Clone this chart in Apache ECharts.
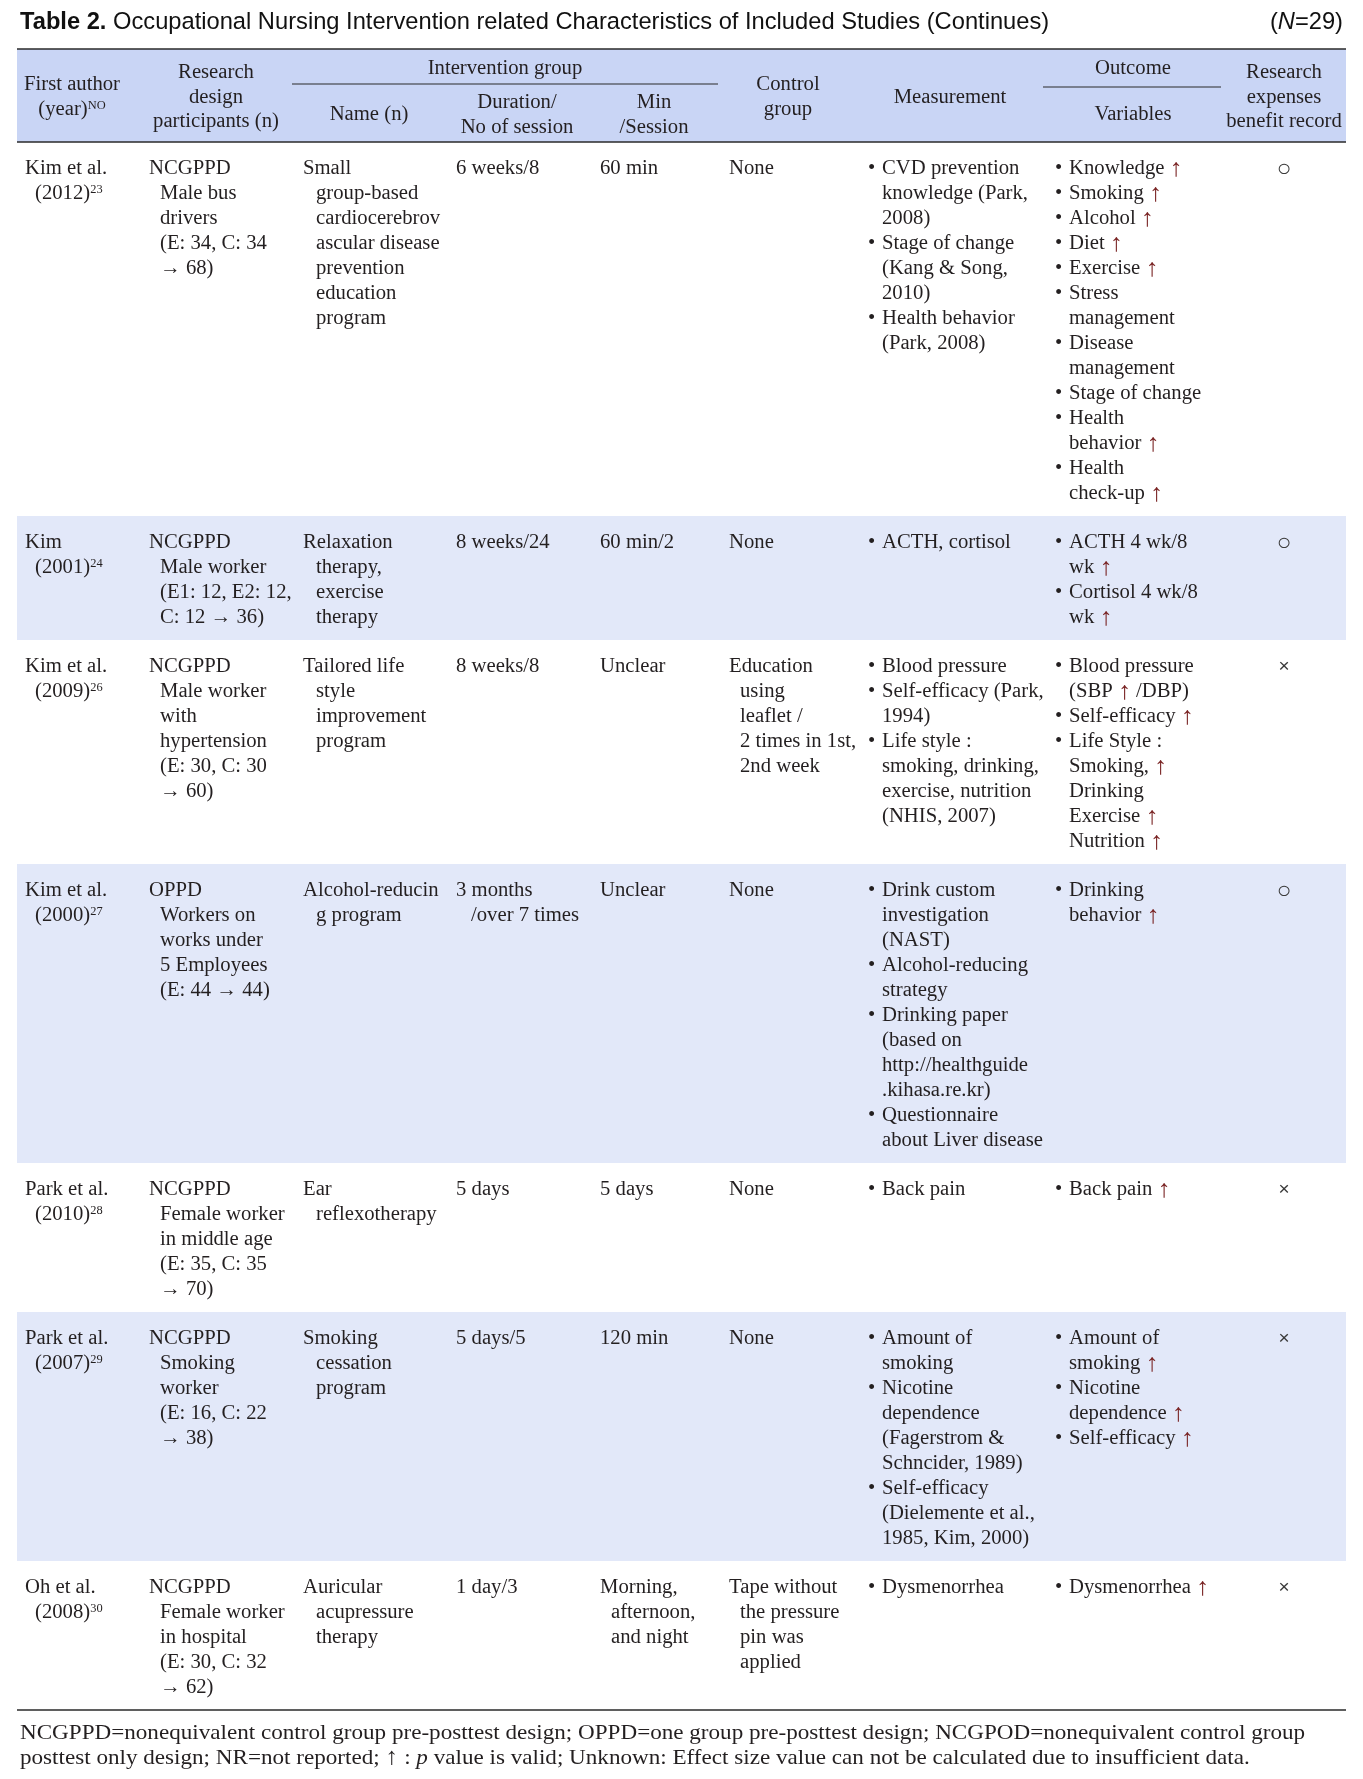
<!DOCTYPE html>
<html><head><meta charset="utf-8">
<script src="https://cdn.jsdelivr.net/npm/echarts@6/dist/echarts.min.js"></script>
<style>html,body{margin:0;padding:0;background:#fff}#c{width:1363px;height:1779px}</style>
</head><body><div id="c"></div>
<script>
// ---------------- DATA ----------------
const titleBold = "Table 2.";
const titleText = " Occupational Nursing Intervention related Characteristics of Included Studies (Continues)";
const sampleN = "29";
const headerTexts = [
  ["First author", "(year){s|NO}"],
  ["Research", "design", "participants (n)"],
  ["Intervention group"],
  ["Name (n)"],
  ["Duration/", "No of session"],
  ["Min", "/Session"],
  ["Control", "group"],
  ["Measurement"],
  ["Outcome"],
  ["Variables"],
  ["Research", "expenses", "benefit record"]
];
const authors = ["Kim et al.", "Kim", "Kim et al.", "Kim et al.", "Park et al.", "Park et al.", "Oh et al."];
const years = ["(2012)", "(2001)", "(2009)", "(2000)", "(2010)", "(2007)", "(2008)"];
const refNos = ["23", "24", "26", "27", "28", "29", "30"];
const designs = [
  ["NCGPPD", "Male bus", "drivers", "(E: 34, C: 34", "→ 68)"],
  ["NCGPPD", "Male worker", "(E1: 12, E2: 12,", "C: 12 → 36)"],
  ["NCGPPD", "Male worker", "with", "hypertension", "(E: 30, C: 30", "→ 60)"],
  ["OPPD", "Workers on", "works under", "5 Employees", "(E: 44 → 44)"],
  ["NCGPPD", "Female worker", "in middle age", "(E: 35, C: 35", "→ 70)"],
  ["NCGPPD", "Smoking", "worker", "(E: 16, C: 22", "→ 38)"],
  ["NCGPPD", "Female worker", "in hospital", "(E: 30, C: 32", "→ 62)"]
];
const programNames = [
  ["Small", "group-based", "cardiocerebrov", "ascular disease", "prevention", "education", "program"],
  ["Relaxation", "therapy,", "exercise", "therapy"],
  ["Tailored life", "style", "improvement", "program"],
  ["Alcohol-reducin", "g program"],
  ["Ear", "reflexotherapy"],
  ["Smoking", "cessation", "program"],
  ["Auricular", "acupressure", "therapy"]
];
const durations = [["6 weeks/8"], ["8 weeks/24"], ["8 weeks/8"], ["3 months", "/over 7 times"], ["5 days"], ["5 days/5"], ["1 day/3"]];
const minPerSession = [["60 min"], ["60 min/2"], ["Unclear"], ["Unclear"], ["5 days"], ["120 min"], ["Morning,", "afternoon,", "and night"]];
const controlGroups = [["None"], ["None"], ["Education", "using", "leaflet /", "2 times in 1st,", "2nd week"], ["None"], ["None"], ["None"], ["Tape without", "the pressure", "pin was", "applied"]];
const measurements = [
  ["• CVD prevention", "knowledge (Park,", "2008)", "• Stage of change", "(Kang & Song,", "2010)", "• Health behavior", "(Park, 2008)"],
  ["• ACTH, cortisol"],
  ["• Blood pressure", "• Self-efficacy (Park,", "1994)", "• Life style :", "smoking, drinking,", "exercise, nutrition", "(NHIS, 2007)"],
  ["• Drink custom", "investigation", "(NAST)", "• Alcohol-reducing", "strategy", "• Drinking paper", "(based on", "http://healthguide", ".kihasa.re.kr)", "• Questionnaire", "about Liver disease"],
  ["• Back pain"],
  ["• Amount of", "smoking", "• Nicotine", "dependence", "(Fagerstrom &", "Schncider, 1989)", "• Self-efficacy", "(Dielemente et al.,", "1985, Kim, 2000)"],
  ["• Dysmenorrhea"]
];
const outcomeVariables = [
  ["• Knowledge ↑", "• Smoking ↑", "• Alcohol ↑", "• Diet ↑", "• Exercise ↑", "• Stress", "management", "• Disease", "management", "• Stage of change", "• Health", "behavior ↑", "• Health", "check-up ↑"],
  ["• ACTH 4 wk/8", "wk ↑", "• Cortisol 4 wk/8", "wk ↑"],
  ["• Blood pressure", "(SBP ↑ /DBP)", "• Self-efficacy ↑", "• Life Style :", "Smoking, ↑", "Drinking", "Exercise ↑", "Nutrition ↑"],
  ["• Drinking", "behavior ↑"],
  ["• Back pain ↑"],
  ["• Amount of", "smoking ↑", "• Nicotine", "dependence ↑", "• Self-efficacy ↑"],
  ["• Dysmenorrhea ↑"]
];
const benefitRecords = ["○", "○", "×", "○", "×", "×", "×"];
const footnoteLines = [
  "NCGPPD=nonequivalent control group pre-posttest design; OPPD=one group pre-posttest design; NCGPOD=nonequivalent control group",
  "posttest only design; NR=not reported; {ar|↑} : {i|p} value is valid; Unknown: Effect size value can not be calculated due to insufficient data."
];

// ---------------- LAYOUT / STYLE ----------------
const W = 1363, H = 1779;
const SERIF = '"Liberation Serif","Times New Roman",serif';
const SANS = '"Liberation Sans",Arial,sans-serif';
const FS = 20, LINE = 25, ROWPAD = 24, FIRST = 27, SX = 1.035;
const INK = '#231f20', ARROW = '#7a2424', RULE = '#2a2a2a';
const HEAD_BG = '#c9d5f5', BAND_BG = '#e2e8f9';
const TL = 17, TR = 1346, TOP_RULE = 49, HEAD_BOTTOM = 142;
const colX = [25, 149, 303, 456, 600, 729, 868, 1055];
const colIndent = [10, 11, 13, 15, 11, 11];
const BULLET_TEXT = 14;
const symbolX = 1284;
const headerPos = [[72, 85], [216, 73], [505, 69], [369, 115], [517, 103], [654, 103], [788, 85], [950, 98], [1133, 69], [1133, 115], [1284, 73]];
const HEAD_LINE = 24.5;
const subRules = [[292, 718, 84], [1043, 1221, 87]];

const RICH = {
  a: {fill: ARROW, fontFamily: SERIF, fontSize: 25},
  ar: {fill: INK, fontFamily: SERIF, fontSize: 24},
  i: {fill: INK, fontFamily: SERIF, fontSize: 21.5, fontStyle: 'italic'},
  s: {fill: INK, fontFamily: SERIF, fontSize: 12, verticalAlign: 'top'}
};
function rich(s) { return s.replace(/↑/g, '{a|↑}'); }
function text(p, str, align, extra, sx) {
  return {type: 'text', x: p[0], y: p[1], scaleX: sx || SX, silent: true,
    style: Object.assign({text: str, fontFamily: SERIF, fontSize: FS, fill: INK,
      align: align || 'left', verticalAlign: 'middle', rich: RICH}, extra || {})};
}
function rowCells(i) {
  return [[authors[i], years[i] + '{s|' + refNos[i] + '}'], designs[i], programNames[i],
    durations[i], minPerSession[i], controlGroups[i], measurements[i], outcomeVariables[i]];
}
const rowTops = [];
(function () {
  let y = HEAD_BOTTOM;
  for (let i = 0; i < authors.length; i++) {
    rowTops.push(y);
    const n = Math.max.apply(null, rowCells(i).map(c => c.length));
    y += n * LINE + ROWPAD;
  }
  rowTops.push(y);
})();

function renderBody(params, api) {
  const i = api.value(0);
  const top = rowTops[i], bot = rowTops[i + 1];
  const children = [];
  if (i % 2 === 1) {
    const p0 = api.coord([TL, top]), p1 = api.coord([TR, bot]);
    children.push({type: 'rect', shape: {x: p0[0], y: p0[1], width: p1[0] - p0[0], height: p1[1] - p0[1]},
      style: {fill: BAND_BG}, silent: true});
  }
  const cells = rowCells(i);
  cells.forEach((lines, c) => {
    lines.forEach((ln, k) => {
      const y = top + FIRST + k * LINE;
      if (c >= 6) {
        if (ln.indexOf('• ') === 0) {
          children.push(text(api.coord([colX[c], y]), '•'));
          children.push(text(api.coord([colX[c] + BULLET_TEXT, y]), rich(ln.slice(2))));
        } else {
          children.push(text(api.coord([colX[c] + BULLET_TEXT, y]), rich(ln)));
        }
      } else {
        const x = colX[c] + (k === 0 ? 0 : colIndent[c]);
        children.push(text(api.coord([x, y]), rich(ln)));
      }
    });
  });
  const sym = benefitRecords[i];
  children.push(text(api.coord([symbolX, top + FIRST]), sym, 'center',
    {fontFamily: SANS, fontSize: sym === '○' ? 24 : 19, fill: '#3a3a3a'}, 1));
  return {type: 'group', children};
}

function renderHeader(params, api) {
  const children = [];
  const p0 = api.coord([TL, TOP_RULE]), p1 = api.coord([TR, HEAD_BOTTOM]);
  children.push({type: 'rect', shape: {x: p0[0], y: p0[1], width: p1[0] - p0[0], height: p1[1] - p0[1]},
    style: {fill: HEAD_BG}, silent: true});
  headerTexts.forEach((lines, h) => {
    lines.forEach((ln, k) => {
      children.push(text(api.coord([headerPos[h][0], headerPos[h][1] + k * HEAD_LINE]), ln, 'center'));
    });
  });
  return {type: 'group', children};
}

function renderRules(params, api) {
  const children = [];
  const hl = (x0, x1, y, w) => {
    const a = api.coord([x0, y]), b = api.coord([x1, y]);
    children.push({type: 'line', shape: {x1: a[0], y1: a[1], x2: b[0], y2: b[1]},
      style: {stroke: RULE, lineWidth: w}, silent: true});
  };
  hl(TL, TR, TOP_RULE, 1.6);
  hl(TL, TR, HEAD_BOTTOM, 1.6);
  subRules.forEach(r => hl(r[0], r[1], r[2], 1.1));
  hl(TL, TR, rowTops[rowTops.length - 1], 1.6);
  return {type: 'group', children};
}

function renderNotes(params, api) {
  const children = [];
  children.push(text(api.coord([20, 22]), '{b|' + titleBold + '}' + titleText, 'left',
    {fontFamily: SANS, fontSize: 23.7, fill: '#111',
     rich: {b: {fontFamily: SANS, fontSize: 23.7, fontWeight: 'bold', fill: '#111'}}}, 1));
  children.push(text(api.coord([1343, 22]), '({n|N}=' + sampleN + ')', 'right',
    {fontFamily: SANS, fontSize: 23.7, fill: '#111',
     rich: {n: {fontFamily: SANS, fontSize: 23.7, fontStyle: 'italic', fill: '#111'}}}, 1));
  const base = rowTops[rowTops.length - 1];
  footnoteLines.forEach((ln, k) => {
    children.push(text(api.coord([20, base + 23 + k * 25]), ln, 'left',
      {fontSize: 21.5}, 1.075));
  });
  return {type: 'group', children};
}

const chart = echarts.init(document.getElementById('c'), null, {renderer: 'canvas'});
chart.setOption({
  backgroundColor: '#fff',
  animation: false,
  grid: {left: 0, right: 0, top: 0, bottom: 0},
  xAxis: {type: 'value', min: 0, max: W, show: false},
  yAxis: {type: 'value', min: 0, max: H, inverse: true, show: false},
  series: [
    {type: 'custom', name: 'header', renderItem: renderHeader, data: [[0]], silent: true},
    {type: 'custom', name: 'rows', renderItem: renderBody, data: authors.map((_, i) => [i]), silent: true},
    {type: 'custom', name: 'rules', renderItem: renderRules, data: [[0]], silent: true},
    {type: 'custom', name: 'notes', renderItem: renderNotes, data: [[0]], silent: true}
  ]
});
</script></body></html>
